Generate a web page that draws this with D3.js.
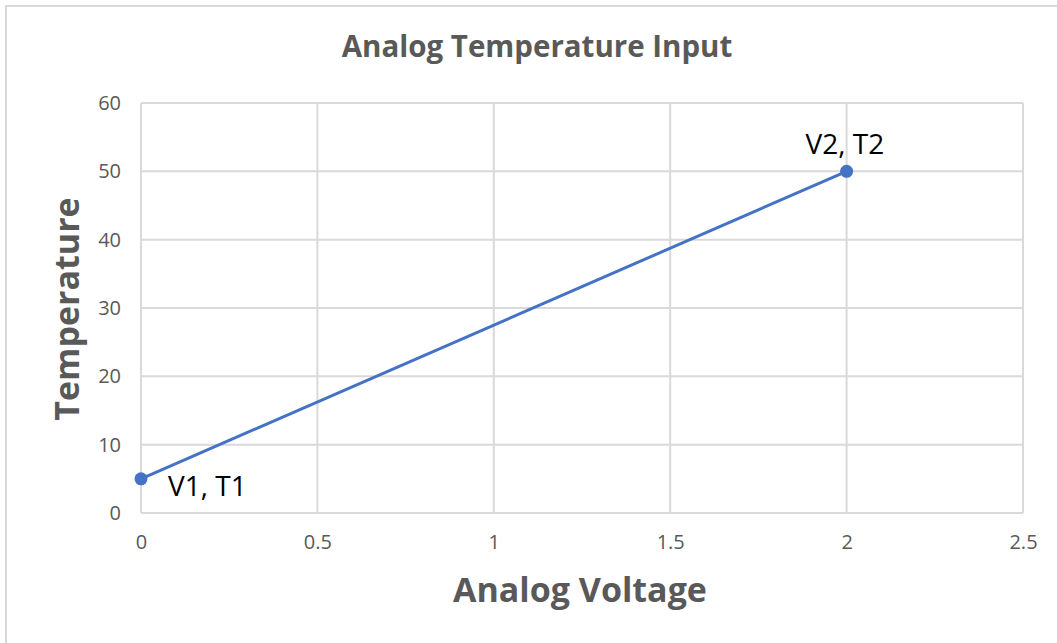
<!DOCTYPE html>
<meta charset="utf-8">
<script src="https://d3js.org/d3.v7.min.js"></script>
<style>
  body { margin: 0; background: #fff; }
  text { font-family: "Open Sans", Lato, sans-serif; }
</style>
<div id="chart"></div>
<script>

// data
var voltages = [0, 2];
var temps = [5, 50];
var pointLabels = ["V1, T1", "V2, T2"];
var xTicks = [0, 0.5, 1, 1.5, 2, 2.5];
var yTicks = [0, 10, 20, 30, 40, 50, 60];

var W = 1057, H = 643;
var margin = {top: 103, right: 34, bottom: 130, left: 141},
    width = 1023 - margin.left,
    height = 513 - margin.top;

var svg = d3.select("#chart").append("svg")
  .attr("width", W)
  .attr("height", H);

// outer chart frame (cropped at right/bottom)
svg.append("rect")
  .attr("x", 6).attr("y", 6)
  .attr("width", W + 20).attr("height", H + 20)
  .attr("fill", "#fff")
  .attr("stroke", "#d9d9d9")
  .attr("stroke-width", 2);

var g = svg.append("g")
  .attr("transform", "translate(" + margin.left + "," + margin.top + ")");

var x = d3.scaleLinear().domain([0, 2.5]).range([0, width]);
var y = d3.scaleLinear().domain([0, 60]).range([height, 0]);

// grid lines
g.selectAll(".vgrid").data(xTicks).enter().append("line")
  .attr("x1", d => x(d)).attr("x2", d => x(d))
  .attr("y1", 0).attr("y2", height)
  .attr("stroke", "#d9d9d9").attr("stroke-width", 2);
g.selectAll(".hgrid").data(yTicks).enter().append("line")
  .attr("x1", 0).attr("x2", width)
  .attr("y1", d => y(d)).attr("y2", d => y(d))
  .attr("stroke", "#d9d9d9").attr("stroke-width", 2);

// axes (labels only)
var xAxis = g.append("g")
  .attr("transform", "translate(0," + height + ")")
  .call(d3.axisBottom(x).tickValues(xTicks).tickSize(0).tickPadding(22).tickFormat(d3.format("")));
var yAxis = g.append("g")
  .call(d3.axisLeft(y).tickValues(yTicks).tickSize(0).tickPadding(20));
[xAxis, yAxis].forEach(function(a) {
  a.select(".domain").remove();
  a.selectAll("text")
    .style("font-family", "'Open Sans', Lato, sans-serif")
    .style("font-size", "20px")
    .attr("fill", "#595959");
});

// line + points
var pts = voltages.map((v, i) => ({v: v, t: temps[i], label: pointLabels[i]}));
g.append("path")
  .datum(pts)
  .attr("fill", "none")
  .attr("stroke", "#4472c4")
  .attr("stroke-width", 3)
  .attr("d", d3.line().x(d => x(d.v)).y(d => y(d.t)));
g.selectAll(".pt").data(pts).enter().append("circle")
  .attr("cx", d => x(d.v)).attr("cy", d => y(d.t))
  .attr("r", 6.5)
  .attr("fill", "#4472c4");

// point labels
g.append("text")
  .attr("x", x(pts[0].v) + 27).attr("y", y(pts[0].t) + 17)
  .attr("font-size", "28px").attr("fill", "#000")
  .text(pts[0].label);
g.append("text")
  .attr("x", x(pts[1].v) - 41).attr("y", y(pts[1].t) - 17)
  .attr("font-size", "28px").attr("fill", "#000")
  .text(pts[1].label);

// titles
svg.append("text")
  .attr("x", 537).attr("y", 57)
  .attr("text-anchor", "middle")
  .attr("font-size", "29.5px").attr("font-weight", "bold")
  .attr("fill", "#595959")
  .text("Analog Temperature Input");

svg.append("text")
  .attr("x", 580).attr("y", 602)
  .attr("text-anchor", "middle")
  .attr("font-size", "34px").attr("font-weight", "bold")
  .attr("fill", "#595959")
  .text("Analog Voltage");

svg.append("text")
  .attr("transform", "translate(79,309) rotate(-90)")
  .attr("text-anchor", "middle")
  .attr("font-size", "34px").attr("font-weight", "bold")
  .attr("fill", "#595959")
  .text("Temperature");

</script>
